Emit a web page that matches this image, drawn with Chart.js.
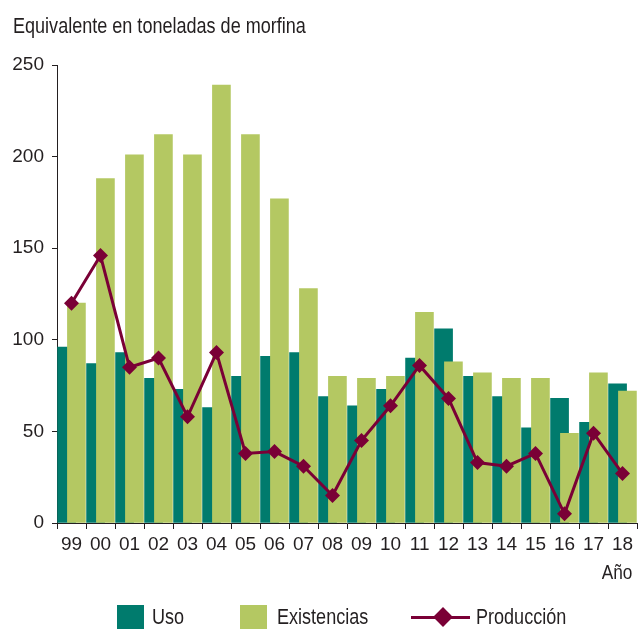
<!DOCTYPE html>
<html lang="es">
<head>
  <meta charset="UTF-8">
  <title>Equivalente en toneladas de morfina</title>
  <script src="https://cdn.jsdelivr.net/npm/chart.js"></script>
  <style>
    body {
      margin: 0;
      background: #ffffff;
      font-family: 'Liberation Sans', Arial, sans-serif;
      color: #231f20;
    }

    #wrap {
      position: relative;
      width: 641px;
      height: 630px;
      overflow: hidden;
    }

    #chart {
      position: absolute;
      left: 0;
      top: 0;
    }

    /* the original uses a condensed face; squeeze the regular one */
    .txt {
      position: absolute;
      white-space: nowrap;
      transform: scaleX(0.82);
      transform-origin: left top;
    }

    #title {
      left: 13px;
      top: 15px;
      font-size: 22px;
      line-height: 22px;
    }

    #anio {
      right: 9px;
      top: 561px;
      font-size: 21px;
      line-height: 21px;
      transform-origin: right top;
    }

    .legend {
      top: 606px;
      font-size: 22px;
      line-height: 22px;
    }

    .box {
      position: absolute;
      top: 605px;
      width: 27px;
      height: 24px;
    }

    .lline {
      position: absolute;
      left: 411px;
      top: 616px;
      width: 59px;
      height: 3px;
      background: #7a0036;
    }

    .ldiamond {
      position: absolute;
      left: 436px;
      top: 610px;
      width: 14px;
      height: 14px;
      background: #7a0036;
      transform: rotate(45deg);
    }
  </style>
</head>
<body>
  <div id="wrap">
    <canvas id="chart" width="641" height="630"></canvas>
    <div id="title" class="txt">Equivalente en toneladas de morfina</div>
    <div id="anio" class="txt">Año</div>

    <div class="box" style="left:117px; background:#007b6d;"></div>
    <div class="txt legend" style="left:152px;">Uso</div>
    <div class="box" style="left:240px; background:#b4c862;"></div>
    <div class="txt legend" style="left:277px;">Existencias</div>
    <div class="lline"></div>
    <div class="ldiamond"></div>
    <div class="txt legend" style="left:476px;">Producción</div>
  </div>

  <script>
    const years = ['99', '00', '01', '02', '03', '04', '05', '06', '07', '08',
                   '09', '10', '11', '12', '13', '14', '15', '16', '17', '18'];

    const uso = [96, 87, 93, 79, 73, 63, 80, 91, 93, 69,
                 64, 73, 90, 106, 80, 69, 52, 68, 55, 76];

    const existencias = [120, 188, 201, 212, 201, 239, 212, 177, 128, 80,
                         79, 80, 115, 88, 82, 79, 79, 49, 82, 72];

    const produccion = [120, 146, 85, 90, 58, 93, 38, 39, 31, 15,
                        45, 64, 86, 68, 33, 31, 38, 5, 49, 27];

    const ink = '#231f20';
    const tickFont = { family: "'Liberation Sans', Arial, sans-serif", size: 19 };

    // bars of a year overlap: Uso sits a bit left, Existencias a bit right and on top
    const shift = 0.17;

    const ctx = document.getElementById('chart').getContext('2d');

    new Chart(ctx, {
      type: 'bar',
      data: {
        datasets: [
          {
            type: 'line',
            label: 'Producción',
            data: produccion.map((v, i) => ({ x: i, y: v })),
            order: 0,
            borderColor: '#7a0036',
            backgroundColor: '#7a0036',
            borderWidth: 3,
            tension: 0,
            pointStyle: 'rectRot',
            pointRadius: 7.5,
            pointBorderWidth: 0,
            fill: false
          },
          {
            label: 'Existencias',
            data: existencias.map((v, i) => ({ x: i + shift, y: v })),
            order: 1,
            grouped: false,
            barThickness: 18,
            backgroundColor: '#b4c862'
          },
          {
            label: 'Uso',
            data: uso.map((v, i) => ({ x: i - shift, y: v })),
            order: 2,
            grouped: false,
            barThickness: 18,
            backgroundColor: '#007b6d'
          }
        ]
      },
      options: {
        responsive: false,
        animation: false,
        layout: {
          autoPadding: false,
          padding: { top: 65, right: -3, bottom: 0, left: 0 }
        },
        plugins: {
          legend: { display: false },
          tooltip: { enabled: false }
        },
        scales: {
          x: {
            type: 'linear',
            offset: false,
            min: -0.5,
            max: years.length - 0.5,
            // tick marks on the year boundaries, label pushed into the middle
            afterBuildTicks: (scale) => {
              scale.ticks = years.concat(['']).map((_, i) => ({ value: i - 0.5 }));
            },
            grid: {
              offset: false,
              drawOnChartArea: false,
              tickLength: 6,
              color: ink
            },
            border: { display: true, color: ink, width: 1 },
            ticks: {
              color: ink,
              padding: 4,
              labelOffset: 14.6,
              maxRotation: 0,
              autoSkip: false,
              font: tickFont,
              callback: (v) => years[Math.round(v + 0.5)] || ''
            },
            afterFit: (scale) => { scale.height = 107; }
          },
          y: {
            min: 0,
            max: 250,
            grid: {
              drawOnChartArea: false,
              tickLength: 5,
              color: ink
            },
            border: { display: true, color: ink, width: 1 },
            ticks: {
              stepSize: 50,
              color: ink,
              padding: 8,
              font: tickFont
            },
            afterFit: (scale) => { scale.width = 57; }
          }
        }
      }
    });
  </script>
</body>
</html>
